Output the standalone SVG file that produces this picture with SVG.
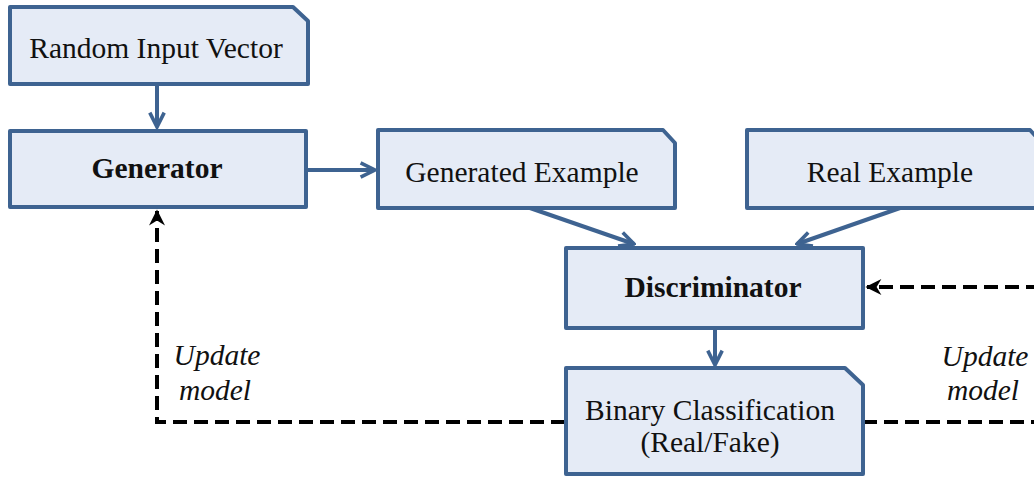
<svg xmlns="http://www.w3.org/2000/svg" width="1034" height="477" viewBox="0 0 1034 477">
<style>
.box{fill:#e5ebf6;stroke:#3e6391;stroke-width:4;stroke-linejoin:round}
.t{font-family:"Liberation Serif",serif;font-size:29.5px;fill:#111;text-anchor:middle}
.b{font-weight:bold}
.i{font-style:italic}
.c{stroke:#3e6391;stroke-width:4;fill:none}
.d{stroke:#000;stroke-width:4;fill:none;stroke-dasharray:14 7}
</style>
<defs>
<marker id="ab" viewBox="0 0 10 10" refX="9" refY="5" markerWidth="4.5" markerHeight="4.5" orient="auto" markerUnits="strokeWidth">
<path d="M1,1 L9,5 L1,9" fill="none" stroke="#3e6391" stroke-width="2"/>
</marker>
<marker id="ak" viewBox="0 0 10 10" refX="9" refY="5" markerWidth="4.5" markerHeight="4" orient="auto" markerUnits="strokeWidth">
<path d="M0,0 L10,5 L0,10 L3,5 Z" fill="#000"/>
</marker>
</defs>
<g id="connectors">
<line class="c" x1="157" y1="84" x2="157" y2="127" marker-end="url(#ab)"/>
<line class="c" x1="308" y1="170" x2="375" y2="170" marker-end="url(#ab)"/>
<line class="c" x1="530" y1="208" x2="634" y2="244" marker-end="url(#ab)"/>
<line class="c" x1="900" y1="208" x2="797" y2="244" marker-end="url(#ab)"/>
<line class="c" x1="715" y1="328" x2="715" y2="365" marker-end="url(#ab)"/>
<polyline class="d" points="565,422 157,422 157,211" marker-end="url(#ak)"/>
<line class="d" x1="863" y1="422" x2="1040" y2="422"/>
<line class="d" x1="1040" y1="287" x2="867" y2="287" marker-end="url(#ak)"/>
</g>
<g id="random">
<path class="box" d="M10,7 H293 L308,21 V84 H10 Z"/>
<text class="t" x="156" y="58">Random Input Vector</text>
</g>
<g id="generator">
<rect class="box" x="10" y="131" width="296" height="76"/>
<text class="t b" x="157" y="178">Generator</text>
</g>
<g id="generated">
<path class="box" d="M378,130 H663 L675,143 V208 H378 Z"/>
<text class="t" x="522" y="182">Generated Example</text>
</g>
<g id="real">
<path class="box" d="M747,130 H1030 L1042,143 V208 H747 Z"/>
<text class="t" x="890" y="182">Real Example</text>
</g>
<g id="discriminator">
<rect class="box" x="566" y="248" width="297" height="80"/>
<text class="t b" x="713" y="297">Discriminator</text>
</g>
<g id="binary">
<path class="box" d="M566,368 H845 L863,385 V474 H566 Z"/>
<text class="t" x="710" y="420">Binary Classification</text>
<text class="t" x="710" y="452">(Real/Fake)</text>
</g>
<g id="labels">
<text class="t i" x="217" y="365">Update</text>
<text class="t i" x="215" y="400">model</text>
<text class="t i" x="985" y="366">Update</text>
<text class="t i" x="983" y="400">model</text>
</g>
</svg>
